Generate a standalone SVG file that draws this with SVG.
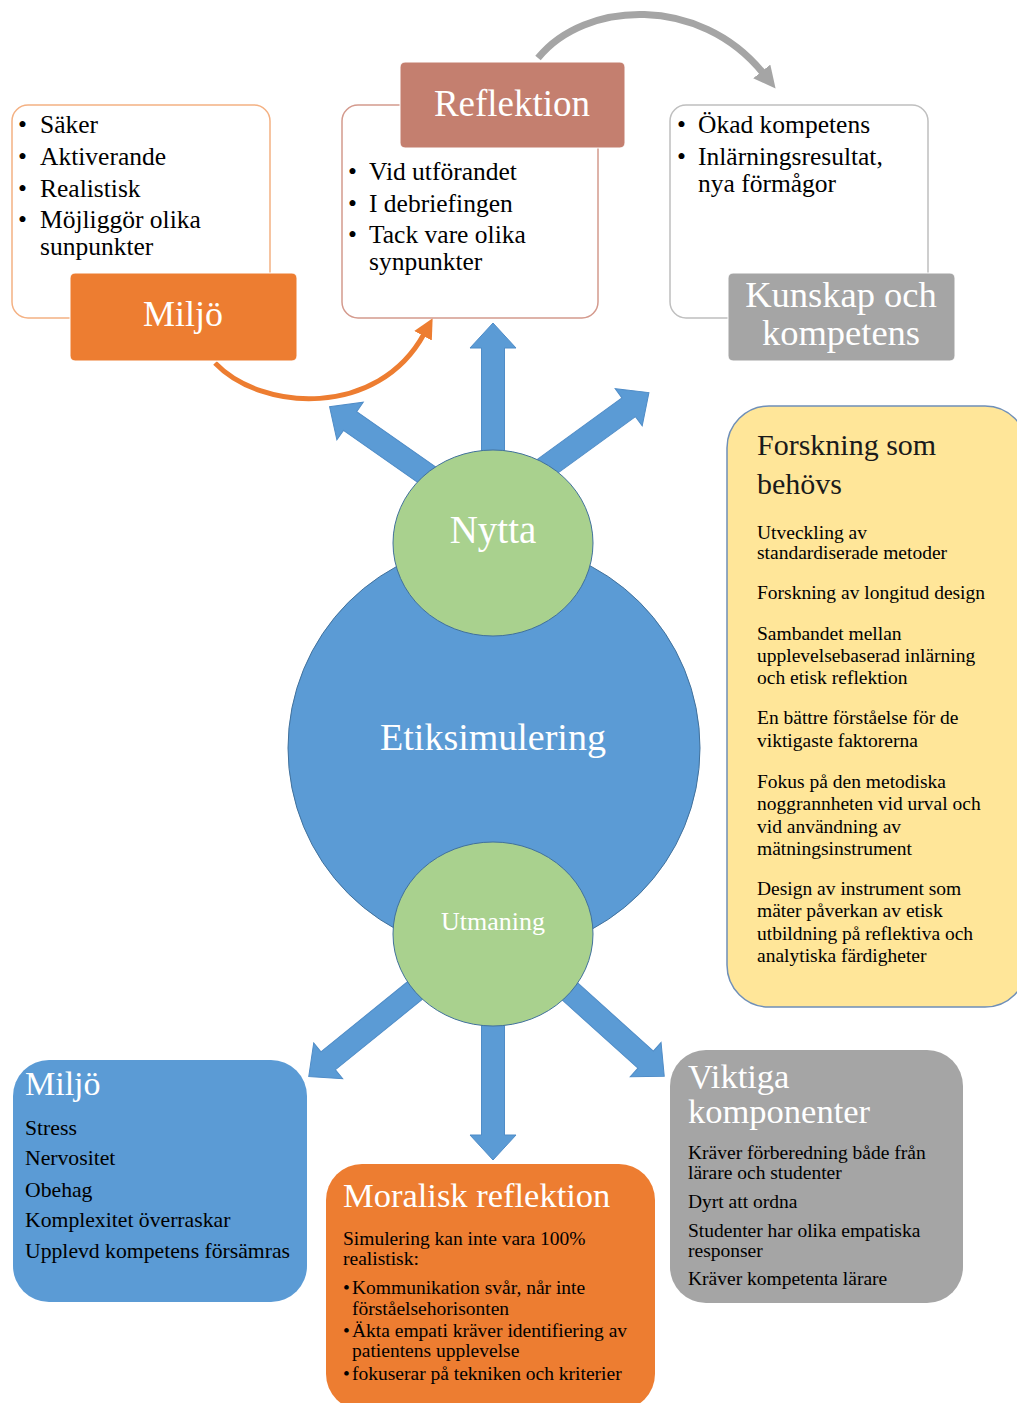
<svg xmlns="http://www.w3.org/2000/svg" width="1017" height="1403" viewBox="0 0 1017 1403">
<defs>
<style>
text{font-family:"Liberation Serif","Times New Roman",serif;}
.bul{font-size:25.5px;fill:#000;}
.hw{fill:#fff;text-anchor:middle;}
.sm{font-size:19.5px;fill:#000;}
.bl{font-size:21.7px;fill:#000;}
.barrow{fill:#5b9bd5;stroke:#4f8cc7;stroke-width:1;}
</style>
<marker id="mOr" viewBox="0 0 20 20" markerUnits="userSpaceOnUse" markerWidth="20" markerHeight="20" refX="2" refY="10" orient="auto"><path d="M0,0 L20,10 L0,20 z" fill="#ed7d31"/></marker>
<marker id="mGr" viewBox="0 0 22 22" markerUnits="userSpaceOnUse" markerWidth="22" markerHeight="22" refX="2" refY="11" orient="auto"><path d="M0,0 L22,11 L0,22 z" fill="#a5a5a5"/></marker>
<polygon id="ba" points="0,-11.5 122,-11.5 122,-23 147,0 122,23 122,11.5 0,11.5"/>
</defs>
<rect width="1017" height="1403" fill="#fff"/>

<g id="connectors">
<path d="M 215 363 C 262 412 378 418 424 334" fill="none" stroke="#ed7d31" stroke-width="5" marker-end="url(#mOr)"/>
<path d="M 538 58 C 585 0 700 -5 763 73" fill="none" stroke="#a5a5a5" stroke-width="7" marker-end="url(#mGr)"/>
<use href="#ba" class="barrow" transform="translate(493,470) rotate(-90)"/>
<use href="#ba" class="barrow" transform="translate(450,491) rotate(215)"/>
<use href="#ba" class="barrow" transform="translate(530,479) rotate(-36)"/>
<use href="#ba" class="barrow" transform="translate(493,1013) rotate(90)"/>
<use href="#ba" class="barrow" transform="translate(423,984) rotate(141)"/>
<use href="#ba" class="barrow" transform="translate(555,978) rotate(42)"/>
</g>

<g id="miljo-top">
<rect x="12" y="105" width="258" height="213" rx="16" fill="#fff" stroke="#f4b183" stroke-width="1.5"/>
<text class="bul" x="18" y="133">•</text><text class="bul" x="40" y="133">Säker</text>
<text class="bul" x="18" y="165">•</text><text class="bul" x="40" y="165">Aktiverande</text>
<text class="bul" x="18" y="197">•</text><text class="bul" x="40" y="197">Realistisk</text>
<text class="bul" x="18" y="228">•</text><text class="bul" x="40" y="228">Möjliggör olika</text>
<text class="bul" x="40" y="255">sunpunkter</text>
<rect x="70" y="273" width="227" height="88" rx="5" fill="#ed7d31" stroke="#fff" stroke-width="1"/>
<text class="hw" x="183" y="326" font-size="36">Miljö</text>
</g>

<g id="reflektion">
<rect x="342" y="105" width="256" height="213" rx="16" fill="#fff" stroke="#d49a8d" stroke-width="1.5"/>
<rect x="400" y="62" width="225" height="86" rx="5" fill="#c47f6f" stroke="#fff" stroke-width="1"/>
<text class="hw" x="512" y="116" font-size="37">Reflektion</text>
<text class="bul" x="348" y="180">•</text><text class="bul" x="369" y="180">Vid utförandet</text>
<text class="bul" x="348" y="212">•</text><text class="bul" x="369" y="212">I debriefingen</text>
<text class="bul" x="348" y="243">•</text><text class="bul" x="369" y="243">Tack vare olika</text>
<text class="bul" x="369" y="270">synpunkter</text>
</g>

<g id="kunskap">
<rect x="670" y="105" width="258" height="213" rx="16" fill="#fff" stroke="#bfbfbf" stroke-width="1.5"/>
<text class="bul" x="677" y="133">•</text><text class="bul" x="698" y="133">Ökad kompetens</text>
<text class="bul" x="677" y="165">•</text><text class="bul" x="698" y="165">Inlärningsresultat,</text>
<text class="bul" x="698" y="192">nya förmågor</text>
<rect x="728" y="273" width="227" height="88" rx="5" fill="#a5a5a5" stroke="#fff" stroke-width="1"/>
<text class="hw" x="841" y="307" font-size="36.5">Kunskap och</text>
<text class="hw" x="841" y="345" font-size="36.5">kompetens</text>
</g>

<g id="etiksimulering">
<circle cx="494" cy="748" r="206" fill="#5b9bd5" stroke="#41719c" stroke-width="1"/>
<text class="hw" x="493" y="750" font-size="38">Etiksimulering</text>
</g>

<g id="nytta">
<ellipse cx="493" cy="543" rx="100" ry="93" fill="#a9d18e" stroke="#41719c" stroke-width="1"/>
<text class="hw" x="493" y="543" font-size="39">Nytta</text>
</g>

<g id="utmaning">
<ellipse cx="493" cy="934" rx="100" ry="92" fill="#a9d18e" stroke="#41719c" stroke-width="1"/>
<text class="hw" x="493" y="930" font-size="26">Utmaning</text>
</g>

<g id="forskning">
<rect x="727" y="406" width="300" height="601" rx="42" fill="#ffe699" stroke="#6f8fb8" stroke-width="1.5"/>
<text x="757" y="455" font-size="30" fill="#1a1a1a">Forskning som</text>
<text x="757" y="494" font-size="30" fill="#1a1a1a">behövs</text>
<text class="sm" x="757" y="539">Utveckling av</text>
<text class="sm" x="757" y="559">standardiserade metoder</text>
<text class="sm" x="757" y="599">Forskning av longitud design</text>
<text class="sm" x="757" y="640">Sambandet mellan</text>
<text class="sm" x="757" y="662">upplevelsebaserad inlärning</text>
<text class="sm" x="757" y="684">och etisk reflektion</text>
<text class="sm" x="757" y="724">En bättre förståelse för de</text>
<text class="sm" x="757" y="747">viktigaste faktorerna</text>
<text class="sm" x="757" y="788">Fokus på den metodiska</text>
<text class="sm" x="757" y="810">noggrannheten vid urval och</text>
<text class="sm" x="757" y="833">vid användning av</text>
<text class="sm" x="757" y="855">mätningsinstrument</text>
<text class="sm" x="757" y="895">Design av instrument som</text>
<text class="sm" x="757" y="917">mäter påverkan av etisk</text>
<text class="sm" x="757" y="940">utbildning på reflektiva och</text>
<text class="sm" x="757" y="962">analytiska färdigheter</text>
</g>

<g id="miljo-bottom">
<rect x="13" y="1060" width="294" height="242" rx="36" fill="#5b9bd5"/>
<text x="25" y="1095" font-size="34" fill="#fff">Miljö</text>
<text class="bl" x="25" y="1135">Stress</text>
<text class="bl" x="25" y="1165">Nervositet</text>
<text class="bl" x="25" y="1197">Obehag</text>
<text class="bl" x="25" y="1227">Komplexitet överraskar</text>
<text class="bl" x="25" y="1258">Upplevd kompetens försämras</text>
</g>

<g id="moralisk">
<rect x="326" y="1164" width="329" height="246" rx="36" fill="#ed7d31"/>
<text x="343" y="1207" font-size="34.5" fill="#fff">Moralisk reflektion</text>
<text class="sm" x="343" y="1245">Simulering kan inte vara 100%</text>
<text class="sm" x="343" y="1265">realistisk:</text>
<text class="sm" x="343" y="1294">•</text><text class="sm" x="352" y="1294">Kommunikation svår, når inte</text>
<text class="sm" x="352" y="1315">förståelsehorisonten</text>
<text class="sm" x="343" y="1337">•</text><text class="sm" x="352" y="1337">Äkta empati kräver identifiering av</text>
<text class="sm" x="352" y="1357">patientens upplevelse</text>
<text class="sm" x="343" y="1380">•</text><text class="sm" x="352" y="1380">fokuserar på tekniken och kriterier</text>
</g>

<g id="viktiga">
<rect x="670" y="1050" width="293" height="253" rx="36" fill="#a5a5a5"/>
<text x="688" y="1088" font-size="34.5" fill="#fff">Viktiga</text>
<text x="688" y="1123" font-size="34.5" fill="#fff">komponenter</text>
<text class="sm" x="688" y="1159">Kräver förberedning både från</text>
<text class="sm" x="688" y="1179">lärare och studenter</text>
<text class="sm" x="688" y="1208">Dyrt att ordna</text>
<text class="sm" x="688" y="1237">Studenter har olika empatiska</text>
<text class="sm" x="688" y="1257">responser</text>
<text class="sm" x="688" y="1285">Kräver kompetenta lärare</text>
</g>
</svg>
